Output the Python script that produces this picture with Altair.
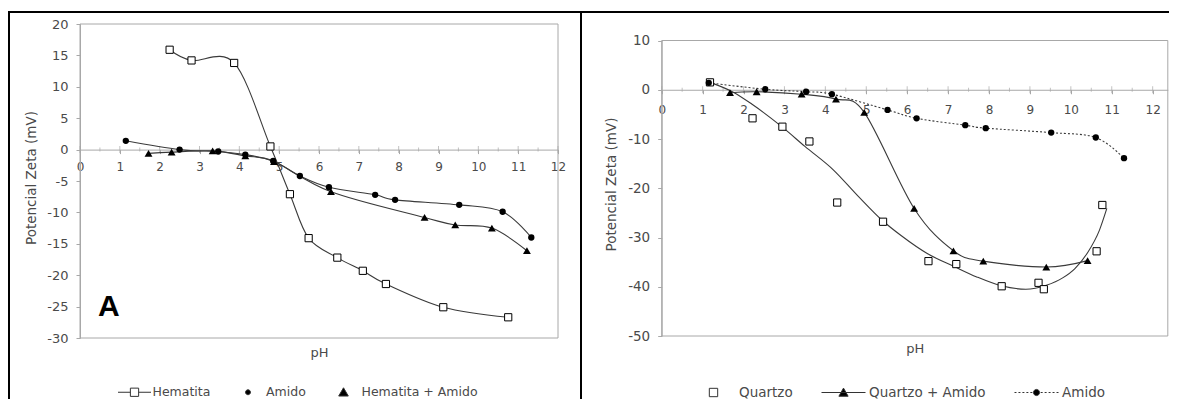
import altair as alt
import pandas as pd

# ---------------- data ----------------
# Panel A: Hematita
hem_ph = [2.25, 2.8, 3.87, 4.78, 5.27, 5.74, 6.46, 7.1, 7.68, 9.12, 10.75]
hem_zeta = [15.9, 14.2, 13.8, 0.5, -7.1, -14.1, -17.2, -19.3, -21.4, -25.1, -26.7]
amidoA_ph = [1.15, 2.5, 3.47, 4.15, 4.85, 5.52, 6.25, 7.41, 7.91, 9.52, 10.61, 11.33]
amidoA_zeta = [1.4, 0.0, -0.3, -0.8, -1.8, -4.2, -6.0, -7.2, -8.0, -8.8, -9.9, -14.0]
hemam_ph = [1.72, 2.3, 3.33, 4.15, 4.87, 6.3, 8.65, 9.42, 10.34, 11.22]
hemam_zeta = [-0.6, -0.4, -0.2, -1.0, -1.9, -6.7, -10.8, -12.0, -12.5, -16.1]

# Panel B: Quartzo
qz_ph = [1.18, 2.22, 2.95, 3.61, 4.29, 5.41, 6.52, 7.2, 8.31, 9.21, 9.34, 10.63, 10.77]
qz_zeta = [1.5, -5.8, -7.5, -10.5, -22.9, -26.8, -34.8, -35.4, -39.9, -39.2, -40.5, -32.8, -23.4]
qz_trend_ph = [1.18, 1.75, 2.2, 2.95, 3.5, 4.2, 4.8, 5.4, 5.85, 6.5, 7.15, 7.7, 8.3, 8.9,
               9.4, 9.8, 10.1, 10.4, 10.7, 10.88]
qz_trend_zeta = [1.5, -0.5, -2.9, -7.6, -11.5, -16.3, -21.6, -26.6, -29.6, -33.3, -35.9, -38.0,
                 -39.8, -40.5, -39.7, -38.2, -36.3, -33.2, -28.5, -24.1]
qzam_ph = [1.67, 2.32, 3.42, 4.26, 4.95, 6.17, 7.13, 7.86, 9.4, 10.41]
qzam_zeta = [-0.6, -0.4, -0.9, -1.9, -4.6, -24.1, -32.7, -34.8, -36.0, -34.7]
amidoB_ph = [1.15, 2.53, 3.53, 4.16, 5.52, 6.23, 7.42, 7.92, 9.52, 10.61, 11.3]
amidoB_zeta = [1.4, 0.1, -0.4, -0.9, -4.1, -5.8, -7.2, -7.8, -8.7, -9.7, -13.9]

left_names = ["Hematita", "Amido", "Hematita + Amido"]
right_names = ["Quartzo", "Quartzo + Amido", "Amido"]
panel_label = ["A"]
xticks = list(range(0, 13))
minor_xticks = [0.5, 1.5, 2.5, 3.5, 4.5, 5.5, 6.5, 7.5, 8.5, 9.5, 10.5, 11.5]
left_yticks = list(range(-30, 21, 5))
right_yticks = list(range(-50, 11, 10))

# ---------------- styling ----------------
W, H = 1161, 391
GRAY = "#a8a8a8"
TXT = "#4a4a4a"
LINE = "#3a3a3a"
FONT = "DejaVu Sans"


def df(x, y):
    return pd.DataFrame({"pH": x, "zeta": y})


# scales mapped to explicit pixel ranges so both panels share one canvas
LXS = alt.Scale(domain=[0, 12], range=[72, 550], nice=False, zero=False)
LYS = alt.Scale(domain=[-30, 20], range=[330, 16], nice=False, zero=False)
RXS = alt.Scale(domain=[0, 12.37], range=[653.7, 1159.8], nice=False, zero=False)
RYS = alt.Scale(domain=[-50, 10], range=[328, 32.5], nice=False, zero=False)

lab_fix = "replace(datum.label, '\u2212', '-')"

AXLX = alt.Axis(orient="bottom", offset=-(H - 141.6), values=xticks, title="pH",
                titleY=202.4, titleBaseline="middle", titleFontSize=13,
                tickSize=4, labelPadding=8, labelFlush=False, labelFontSize=12,
                labelOverlap=False)
AXLY = alt.Axis(orient="left", offset=-72, values=left_yticks, title="Potencial Zeta (mV)",
                titleX=-49, titleY=169.5, titleBaseline="middle", titleFontSize=13.5,
                tickSize=4, labelPadding=8, labelFlush=False, labelFontSize=13,
                labelExpr=lab_fix, labelOverlap=False)
AXRX = alt.Axis(orient="bottom", offset=-(H - 81.75), values=xticks, title="pH",
                titleY=259.2, titleBaseline="middle", titleFontSize=13,
                tickSize=4, labelPadding=11, labelFlush=False, labelFontSize=12,
                labelOverlap=False)
AXRY = alt.Axis(orient="left", offset=-653.7, values=right_yticks, title="Potencial Zeta (mV)",
                titleX=-50.7, titleY=176, titleBaseline="middle", titleFontSize=13.5,
                tickSize=4, labelPadding=8, labelFlush=False, labelFontSize=13.5,
                labelExpr=lab_fix, labelOverlap=False)


def xy(p, ax=None, ay=None):
    xs, ys = p
    return dict(x=alt.X("pH:Q", scale=xs, axis=ax), y=alt.Y("zeta:Q", scale=ys, axis=ay))


def line(x, y, p, ax=None, ay=None, interp="cardinal", dash=None):
    kw = dict(interpolate=interp, color=LINE, strokeWidth=1.1)
    if dash:
        kw["strokeDash"] = dash
    return alt.Chart(df(x, y)).mark_line(**kw).encode(**xy(p, ax, ay))


def squares(x, y, p):
    return alt.Chart(df(x, y)).mark_point(shape="square", filled=True, fill="white",
                                           stroke="black", strokeWidth=1, size=52,
                                           opacity=1).encode(**xy(p))


def circles(x, y, p):
    return alt.Chart(df(x, y)).mark_point(shape="circle", filled=True, color="black",
                                           size=40, opacity=1).encode(**xy(p))


def triangles(x, y, p):
    return alt.Chart(df(x, y)).mark_point(shape="triangle-up", filled=True, color="black",
                                           size=62, opacity=1).encode(**xy(p))


def frame(p, x0, x1, y0, y1):
    xs, ys = p
    return alt.Chart(pd.DataFrame({"k": [0]})).mark_rect(
        fill="transparent", stroke=GRAY, strokeWidth=1).encode(
        x=alt.XDatum(x0, scale=xs, axis=None), x2=alt.datum(x1),
        y=alt.YDatum(y0, scale=ys, axis=None), y2=alt.datum(y1))


def zero_ticks(vals, p, length):
    xs, ys = p
    return alt.Chart(pd.DataFrame({"pH": vals})).mark_tick(
        orient="vertical", color=GRAY, thickness=1, size=length).encode(
        x=alt.X("pH:Q", scale=xs, axis=None),
        y=alt.YDatum(0, scale=ys, axis=None))


# legend symbol paths (style only)
def circ(r):
    return f"M{-r},0A{r},{r},0,1,0,{r},0A{r},{r},0,1,0,{-r},0Z"


sq_line = "M-1,0H-0.25M0.25,0H1M-0.25,-0.25H0.25V0.25H-0.25Z"
bullet = circ(0.15)
tri = "M0,-0.27L0.29,0.23L-0.29,0.23Z"
sq_only = "M-0.19,-0.19H0.19V0.19H-0.19Z"
tri_line = "M-1,0H1M0,-0.2L0.21,0.17L-0.21,0.17Z"
dashes = ""
for i in range(5):
    a = -1 + 0.18 * i
    dashes += f"M{a:.2f},0H{a + 0.09:.2f}M{-a - 0.09:.2f},0H{-a:.2f}"
dot_line = dashes + circ(0.14)


def legend_layer(names, fills, paths, leg):
    return alt.Chart(pd.DataFrame({"series": names})).transform_filter("false").mark_point(
        stroke="#333333", strokeWidth=1, opacity=1).encode(
        fill=alt.Fill("series:N", scale=alt.Scale(domain=names, range=fills), legend=leg),
        shape=alt.Shape("series:N", scale=alt.Scale(domain=names, range=paths), legend=leg),
    )


LEG_L = alt.Legend(orient="none", legendX=109.5, legendY=367, direction="horizontal",
                   title=None, symbolSize=1089, symbolStrokeWidth=1, labelOffset=1,
                   columnPadding=20.5, padding=0, labelFont=FONT, labelFontSize=12.5,
                   labelColor=TXT)
LEG_R = alt.Legend(orient="none", legendX=683, legendY=362, direction="horizontal",
                   title=None, symbolSize=1936, symbolStrokeWidth=1, labelOffset=3,
                   columnPadding=26, padding=0, labelFont=FONT, labelFontSize=13.5,
                   labelColor=TXT)

PL = (LXS, LYS)
PR = (RXS, RYS)

textA = alt.Chart(pd.DataFrame({"label": panel_label})).mark_text(
    align="left", baseline="alphabetic", font="Liberation Sans", fontSize=30,
    fontWeight="bold", color="black").encode(
    x=alt.XDatum(0.45, scale=LXS, axis=None), y=alt.YDatum(-26.5, scale=LYS, axis=None),
    text="label:N")

bdf = pd.DataFrame({"k": [0]})
borders = [
    alt.Chart(bdf).mark_rule(color="black", strokeWidth=2).encode(
        x=alt.value(0), x2=alt.value(W), y=alt.value(4)),
    alt.Chart(bdf).mark_rule(color="black", strokeWidth=2).encode(
        x=alt.value(1), y=alt.value(3), y2=alt.value(H)),
    alt.Chart(bdf).mark_rule(color="black", strokeWidth=2).encode(
        x=alt.value(573), y=alt.value(3), y2=alt.value(H)),
]

layers = [
    frame(PL, 0, 12, -30, 20),
    zero_ticks(xticks, PL, 7),
    zero_ticks(minor_xticks, PL, 4),
    line(hem_ph, hem_zeta, PL, AXLX, AXLY),
    line(amidoA_ph, amidoA_zeta, PL),
    line(hemam_ph, hemam_zeta, PL),
    squares(hem_ph, hem_zeta, PL),
    circles(amidoA_ph, amidoA_zeta, PL),
    triangles(hemam_ph, hemam_zeta, PL),
    legend_layer(left_names, ["white", "black", "black"], [sq_line, bullet, tri], LEG_L),
    textA,
    frame(PR, 0, 12.37, -50, 10),
    zero_ticks(xticks, PR, 7),
    zero_ticks(minor_xticks, PR, 4),
    line(qz_trend_ph, qz_trend_zeta, PR, AXRX, AXRY, interp="monotone"),
    line(qzam_ph, qzam_zeta, PR),
    line(amidoB_ph, amidoB_zeta, PR, dash=[2, 2]),
    squares(qz_ph, qz_zeta, PR),
    triangles(qzam_ph, qzam_zeta, PR),
    circles(amidoB_ph, amidoB_zeta, PR),
    legend_layer(right_names, ["white", "black", "black"], [sq_only, tri_line, dot_line], LEG_R),
] + borders

chart = alt.layer(*layers).resolve_scale(
    x="independent", y="independent", fill="independent", shape="independent"
).properties(
    width=W, height=H, padding=0, autosize=alt.AutoSizeParams(type="none"),
    background="white",
).configure_axis(
    grid=False, domainColor=GRAY, tickColor=GRAY, labelColor=TXT, titleColor=TXT,
    labelFont=FONT, titleFont=FONT, titleFontWeight="normal", domainWidth=1, tickWidth=1,
).configure_view(stroke="transparent")

chart.save("out.html", embed_options={"renderer": "svg", "actions": False})
